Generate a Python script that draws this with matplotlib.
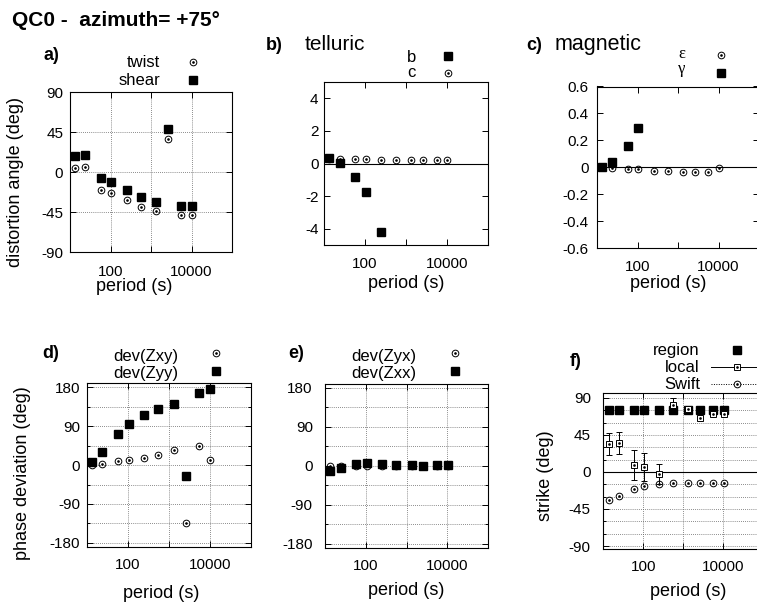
import matplotlib.pyplot as plt
from matplotlib.lines import Line2D

plt.rcParams['font.family'] = ['Liberation Sans', 'DejaVu Sans']
plt.rcParams['axes.unicode_minus'] = False

# periods (s), shared by all six panels
period = [13.5, 24, 57, 105, 250, 560, 1320, 2570, 5600, 10200]
x_ticks = [10, 100, 1000, 10000, 100000]
x_ticklabels = ['', '100', '', '10000', '']

# a) distortion angles (deg)
twist = [4.5, 5.3, -20.3, -23.6, -31.9, -39.0, -44.3, 37.1, -48.8, -48.8]
shear = [17.6, 18.7, -7.1, -11.6, -20.6, -28.1, -34.1, 48.0, -38.6, -38.6]

# b) telluric distortion
tell_b = [0.34, 0.05, -0.8, -1.72, -4.18]
tell_c = [0.27, 0.26, 0.25, 0.25, 0.24, 0.24, 0.23, 0.23, 0.22, 0.22]

# c) magnetic distortion
eps = [0.0, -0.003, -0.01, -0.015, -0.028, -0.03, -0.035, -0.038, -0.033, -0.004]
gam = [0.003, 0.04, 0.16, 0.29]

# d), e) phase deviations (deg)
dev_zxy = [0, 3, 8.5, 11, 16, 24, 35, -133, 44, 12]
dev_zyy = [6, 31, 73, 96, 117, 129, 141, -26, 168, 175]
dev_zyx = [0, 0, -1, -1, -1, 0, 0, 0, 0, 0]
dev_zxx = [-13, -6, 5, 7, 5, 2, 2, 0, 1, 1]

# f) strike (deg)
strike_region = [75, 75, 75, 75, 75, 75, 75, 75, 75, 75]
strike_local = [34, 35, 8.5, 5.5, -2.5, 81.5, 76, 66, 70.5, 70]
strike_local_err = [13, 13, 18.5, 17, 12, 8, 3, 2, 2, 2]
strike_swift = [-34.5, -29.3, -20.5, -17, -15, -14, -13, -13, -13, -13]

W, H = 757, 606
fig = plt.figure(figsize=(W / 100, H / 100), dpi=100)


def px(x, y):
    return x / W, 1 - y / H


def add_panel(box, ylim, yticks, ylabels, yminor=(), grid=True, zero=False,
              xpad=8.5, ypad=5):
    l, t, r, b = box
    ax = fig.add_axes([l / W, 1 - b / H, (r - l) / W, (b - t) / H])
    ax.set_xscale('log')
    ax.set_xlim(10, 1e5)
    ax.set_ylim(*ylim)
    ax.set_xticks(x_ticks, labels=x_ticklabels)
    ax.set_xticks([], minor=True)
    ax.set_yticks(yticks, labels=ylabels)
    ax.set_yticks(list(yminor), minor=True)
    ax.tick_params(which='both', direction='in', top=True, right=True,
                   width=0.7, labelsize=11)
    ax.tick_params(which='major', length=4)
    ax.tick_params(which='minor', length=2)
    ax.tick_params(axis='x', pad=xpad)
    ax.tick_params(axis='y', pad=ypad)
    for s in ax.spines.values():
        s.set_linewidth(0.8)
    if grid:
        ax.grid(True, which='both', color='#666666', lw=0.6, ls=(0, (1, 1.5)))
        ax.set_axisbelow(True)
    if zero:
        ax.axhline(0, color='k', lw=0.8, zorder=1.5)
    return ax


def xlabel(ax, cx, top):
    ax.set_xlabel('period (s)', fontsize=13)
    ax.xaxis.set_label_coords(*px(cx, top), transform=fig.transFigure)


def ylabel(ax, text, cx, cy):
    ax.set_ylabel(text, fontsize=13, va='center')
    ax.yaxis.set_label_coords(*px(cx, cy), transform=fig.transFigure)


def circles(ax, x, y, ms=4.8):
    ax.plot(x, y, 'o', ms=ms, mfc='none', mec='k', mew=0.7, ls='none', zorder=3)
    ax.plot(x, y, '.', ms=1.8, color='k', ls='none', zorder=3)


def squares(ax, x, y, ms=5.8):
    ax.plot(x, y, 's', ms=ms, color='k', ls='none', zorder=3)


def key(x, y, kind, line=None):
    fx, fy = px(x, y)
    if line:
        fig.add_artist(Line2D([px(711, y)[0], 1.02], [fy, fy], color='k',
                              lw=0.7, ls=line))
    if kind == 'sq':
        fig.add_artist(Line2D([fx], [fy], marker='s', ms=5.8, color='k', ls='none'))
    elif kind == 'osq':
        fig.add_artist(Line2D([fx], [fy], marker='s', ms=5, mfc='white',
                              mec='k', mew=0.7, ls='none'))
        fig.add_artist(Line2D([fx], [fy], marker='.', ms=1.8, color='k', ls='none'))
    else:
        fig.add_artist(Line2D([fx], [fy], marker='o', ms=4.8, mfc='white',
                              mec='k', mew=0.7, ls='none'))
        fig.add_artist(Line2D([fx], [fy], marker='.', ms=1.8, color='k', ls='none'))


def text(x, y, s, **kw):
    kw.setdefault('va', 'baseline')
    fig.text(*px(x, y), s, **kw)


text(12, 26.5, 'QC0 -  azimuth= +75°', fontsize=15, fontweight='bold')

# a) distortion angle
ax = add_panel((70, 92, 232, 252), (-90, 90), [-90, -45, 0, 45, 90],
               ['-90', '-45', '0', '45', '90'], xpad=9.5, ypad=4.8)
circles(ax, period, twist)
squares(ax, period, shear)
xlabel(ax, 134, 278)
ylabel(ax, 'distortion angle (deg)', 16, 182)
text(43, 59.5, 'a)', fontsize=13, fontweight='bold')
text(160, 67, 'twist', fontsize=12, ha='right')
text(160, 85, 'shear', fontsize=12, ha='right')
key(193, 62, 'dot')
key(193, 80, 'sq')

# b) telluric
ax = add_panel((324, 82, 488, 245), (-5, 5), [-4, -2, 0, 2, 4],
               ['-4', '-2', '0', '2', '4'], grid=False, zero=True, ypad=4)
squares(ax, period[:len(tell_b)], tell_b)
circles(ax, period, tell_c)
xlabel(ax, 406, 275)
text(266, 49.5, 'b)', fontsize=13, fontweight='bold')
text(305, 49.5, 'telluric', fontsize=15)
text(416, 61.5, 'b', fontsize=12, ha='right')
text(416, 77, 'c', fontsize=12, ha='right')
key(447.5, 56, 'sq')
key(447.5, 72.5, 'dot')

# c) magnetic
ax = add_panel((597, 86.5, 759, 248), (-0.6, 0.6),
               [-0.6, -0.4, -0.2, 0, 0.2, 0.4, 0.6],
               ['-0.6', '-0.4', '-0.2', '0', '0.2', '0.4', '0.6'],
               grid=False, zero=True, ypad=6)
circles(ax, period, eps)
squares(ax, period[:len(gam)], gam)
xlabel(ax, 668, 275)
text(526, 50, 'c)', fontsize=13, fontweight='bold')
text(555, 50, 'magnetic', fontsize=15.5)
text(685, 58, 'ε', fontsize=12, ha='right', family='Liberation Serif')
text(685, 73, 'γ', fontsize=12, ha='right', family='Liberation Serif')
key(721, 54.5, 'dot')
key(721, 72.5, 'sq')

# d) phase deviation Zxy / Zyy
phase_ticks = [-180, -90, 0, 90, 180]
phase_labels = ['-180', '-90', '0', '90', '180']
ax = add_panel((86.7, 383, 250.7, 546.7), (-189, 190), phase_ticks,
               phase_labels, yminor=[-135, -45, 45, 135], xpad=8, ypad=4.8)
circles(ax, period, dev_zxy)
squares(ax, period, dev_zyy)
xlabel(ax, 161, 585)
ylabel(ax, 'phase deviation (deg)', 23, 473)
text(42, 358.5, 'd)', fontsize=13, fontweight='bold')
text(178, 361, 'dev(Zxy)', fontsize=12, ha='right')
text(178, 378, 'dev(Zyy)', fontsize=12, ha='right')
key(216, 353, 'dot')
key(216, 371, 'sq')

# e) phase deviation Zyx / Zxx
ax = add_panel((325, 384, 488.3, 547.7), (-189, 189), phase_ticks,
               phase_labels, yminor=[-135, -45, 45, 135], xpad=8, ypad=8.8)
circles(ax, period, dev_zyx)
squares(ax, period, dev_zxx)
xlabel(ax, 406.5, 582)
text(288, 358.5, 'e)', fontsize=13, fontweight='bold')
text(416.5, 361, 'dev(Zyx)', fontsize=12, ha='right')
text(416.5, 378, 'dev(Zxx)', fontsize=12, ha='right')
key(455, 353, 'dot')
key(455, 371, 'sq')

# f) strike
ax = add_panel((603.3, 392.5, 763.3, 548.5), (-93, 96.5),
               [-90, -45, 0, 45, 90], ['-90', '-45', '0', '45', '90'],
               yminor=[-75, -60, -30, -15, 15, 30, 60, 75], zero=True,
               xpad=8, ypad=9)
squares(ax, period, strike_region)
ax.errorbar(period, strike_local, yerr=strike_local_err, fmt='s', ms=5,
            mfc='white', mec='k', mew=0.7, ecolor='k', elinewidth=0.7,
            capsize=2, capthick=0.7, zorder=4)
ax.plot(period, strike_local, '.', ms=1.8, color='k', zorder=5)
circles(ax, period, strike_swift)
xlabel(ax, 688, 583)
ylabel(ax, 'strike (deg)', 545, 476)
text(570, 366.5, 'f)', fontsize=13, fontweight='bold')
text(700, 355, 'region', fontsize=12, ha='right')
text(700, 372.5, 'local', fontsize=12, ha='right')
text(700, 389, 'Swift', fontsize=12, ha='right')
key(736.7, 350, 'sq')
key(736.7, 367, 'osq', line='-')
key(736.7, 384, 'dot', line=(0, (1, 1.5)))

fig.savefig('out.png', dpi=100)
